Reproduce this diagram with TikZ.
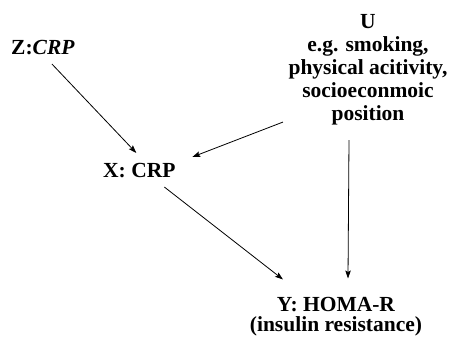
\documentclass[tikz,border=0pt]{standalone}
\usepackage{fontspec}
\setmainfont{Liberation Serif}
\usetikzlibrary{arrows.meta,calc}
\tikzset{
  lbl/.style={inner sep=0pt, font=\fontsize{21.5}{23}\selectfont\bfseries, align=center},
  tight/.style={font=\fontsize{21.5}{19.5}\selectfont\bfseries},
  arr/.style={line width=0.8pt, -{Stealth[length=8pt,width=5.5pt,inset=1.5pt]}}
}
\begin{document}
\begin{tikzpicture}[x=1pt,y=1pt]
\useasboundingbox (0,0) rectangle (450,337);
\node[lbl, anchor=base west] (Z) at (11,282) {Z:\textit{CRP}};
\node[lbl, anchor=base west] (X) at (103,159) {X: CRP};
\node[lbl, anchor=north] (U) at (368,323) {U\\e.g. smoking,\\physical acitivity,\\socioeconmoic\\position};
\node[lbl, tight, anchor=north] (Y) at (336,39.5) {Y: HOMA-R\\(insulin resistance)};
\draw[arr] ($(Z.base)+(9,-9)$) -- ($(X.base)+(-3,25)$);
\draw[arr] ($(U.south)+(-85,3)$) -- ($(X.base)+(53,21)$);
\draw[arr] ($(X.base)+(25,-9)$) -- ($(Y.north)+(-53,18)$);
\draw[arr] ($(U.south)+(-19,-15)$) -- ($(Y.north)+(12,19)$);
\end{tikzpicture}
\end{document}
